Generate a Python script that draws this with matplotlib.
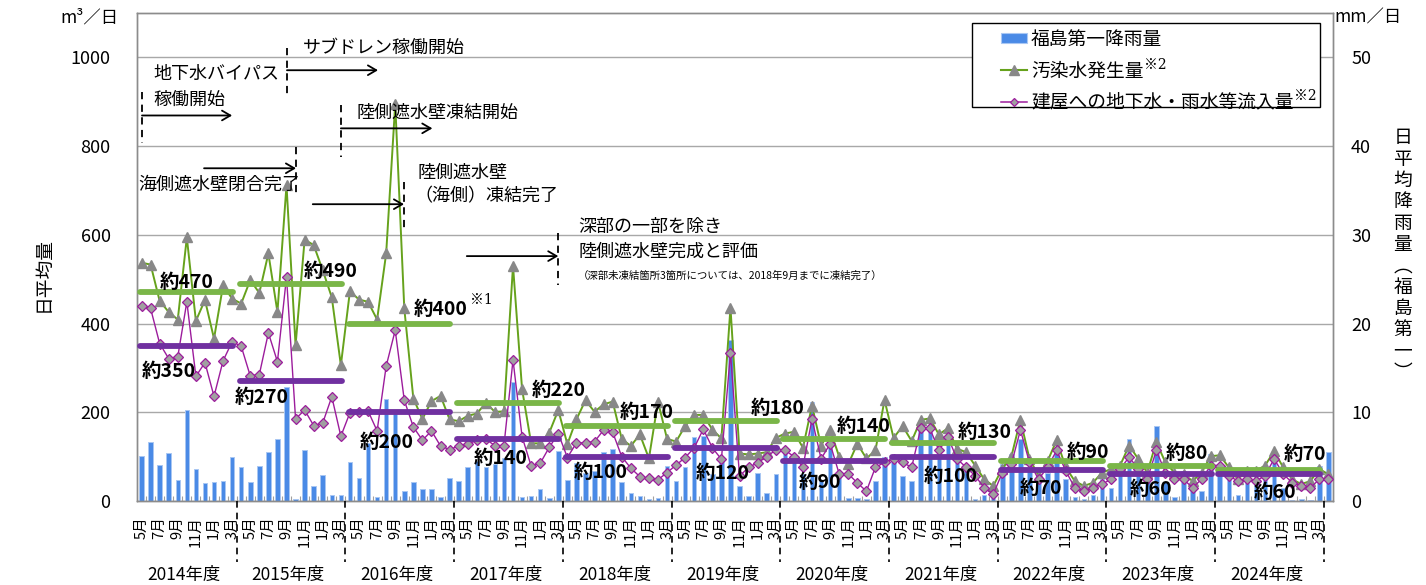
import numpy as np
import matplotlib
matplotlib.use("Agg")
import matplotlib.pyplot as plt
from matplotlib.lines import Line2D
from matplotlib.patches import Patch, Rectangle
import matplotlib.transforms as mtrans

plt.rcParams['font.family'] = ['Noto Sans CJK JP', 'DejaVu Sans']

# ---------------- data ----------------
fiscal_years = ["2014年度", "2015年度", "2016年度", "2017年度", "2018年度", "2019年度",
                "2020年度", "2021年度", "2022年度", "2023年度", "2024年度"]
months_in_year = [11, 12, 12, 12, 12, 12, 12, 12, 12, 12, 12]
month_labels = ["5月", "7月", "9月", "11月", "1月", "3月"]

series_names = ["福島第一降雨量", "汚染水発生量", "建屋への地下水・雨水等流入量"]

# monthly mean rainfall (mm/day), May 2014 - Apr 2025
rain = [5.1, 6.7, 4.1, 5.4, 2.4, 10.3, 3.6, 2.0, 2.1, 2.3, 5.0,
        3.8, 2.1, 3.9, 5.5, 7.0, 12.9, 0.2, 5.8, 1.7, 2.9, 0.7, 0.7,
        4.4, 2.6, 6.5, 0.4, 11.5, 10.3, 1.1, 2.1, 1.4, 1.4, 0.4, 2.6,
        2.3, 3.8, 4.5, 3.8, 4.2, 4.8, 13.4, 0.5, 0.6, 1.3, 0.3, 5.6,
        2.4, 4.3, 3.1, 3.4, 5.5, 5.9, 2.1, 0.9, 0.6, 0.2, 0.3, 3.9,
        2.2, 3.8, 7.2, 7.3, 3.0, 4.7, 18.2, 1.7, 0.6, 3.1, 0.9, 3.0,
        5.4, 4.6, 3.0, 11.2, 2.4, 6.7, 2.8, 0.3, 0.3, 0.2, 2.3, 5.0,
        4.5, 2.8, 2.3, 9.0, 8.6, 4.9, 7.0, 4.7, 4.2, 0.2, 0.7, 1.3,
        4.2, 5.3, 7.0, 3.6, 2.5, 3.2, 5.5, 2.5, 0.4, 0.2, 0.7, 2.5,
        1.5, 3.0, 7.0, 2.8, 3.2, 8.4, 2.1, 0.5, 3.4, 1.3, 1.1, 5.3,
        3.6, 2.5, 0.7, 2.5, 2.8, 3.6, 4.7, 1.5, 0.1, 0.2, 0.1, 4.0,
        5.5]

# contaminated water generated (m3/day)
contaminated = [537, 533, 451, 426, 409, 594, 406, 453, 366, 486, 456,
                445, 498, 469, 558, 426, 712, 351, 589, 577, 520, 459, 306,
                473, 454, 449, 409, 558, 895, 434, 231, 185, 225, 237, 184,
                180, 192, 197, 221, 201, 202, 530, 252, 130, 130, 154, 205,
                128, 184, 227, 201, 218, 224, 140, 124, 150, 96, 224, 140,
                134, 169, 194, 194, 161, 141, 436, 107, 105, 107, 110, 142,
                152, 156, 120, 215, 125, 160, 100, 83, 129, 96, 114, 228,
                142, 169, 135, 183, 186, 150, 164, 118, 110, 80, 49, 34,
                73, 100, 183, 95, 57, 90, 137, 76, 45, 34, 41, 64,
                72, 80, 125, 95, 64, 133, 87, 64, 61, 45, 64, 101,
                103, 76, 49, 68, 68, 80, 112, 76, 49, 38, 45, 72,
                60]

# groundwater / rainwater inflow into buildings (m3/day)
inflow = [439, 434, 355, 321, 325, 449, 281, 312, 236, 316, 359,
          349, 282, 285, 379, 314, 505, 185, 205, 170, 176, 235, 146,
          199, 200, 203, 158, 304, 385, 227, 167, 137, 158, 124, 116,
          124, 128, 137, 139, 125, 125, 318, 145, 79, 85, 121, 152,
          98, 131, 131, 134, 160, 155, 100, 74, 55, 51, 48, 64,
          81, 98, 120, 162, 120, 94, 334, 56, 76, 86, 100, 115,
          115, 100, 77, 185, 95, 129, 61, 61, 41, 22, 76, 87,
          95, 87, 76, 164, 164, 114, 144, 95, 76, 57, 30, 15,
          64, 83, 160, 87, 49, 76, 114, 68, 30, 22, 30, 38,
          49, 72, 99, 72, 49, 114, 64, 49, 49, 30, 49, 80,
          80, 57, 45, 49, 45, 57, 95, 61, 41, 34, 30, 49,
          49]

contaminated_avg = [470, 490, 400, 220, 170, 180, 140, 130, 90, 80, 70]
inflow_avg = [350, 270, 200, 140, 100, 120, 90, 100, 70, 60, 60]

# label positions (category index, value) for the average labels
contaminated_avg_pos = [(5.0, 493), (20.9, 518), (33.0, 432), (46.0, 250), (55.8, 200), (70.2, 209),
                        (79.7, 169), (93.1, 155), (104.5, 110), (115.4, 106), (128.4, 104)]
inflow_avg_pos = [(3.0, 291), (13.3, 234), (27.1, 131), (39.6, 95), (50.7, 65), (64.1, 61),
                  (74.9, 41), (89.3, 56), (99.3, 29), (111.4, 25), (125.1, 20)]

# ---------------- colours ----------------
bar_color = '#4a8ae6'
bar_edge = '#a9c7f3'
green_line = '#66a21c'
tri_gray = '#888888'
purple_line = '#9c1c9c'
dia_fill = '#a0a0a0'
green_avg_c = '#7ab648'
purple_avg_c = '#7030a0'
frame_c = '#8c8c8c'

# ---------------- figure ----------------
W, H = 1426, 585
L, R, B, T = 137, 1333, 501, 13
fig = plt.figure(figsize=(W / 100, H / 100), dpi=100, facecolor='white')
ax = fig.add_axes([L / W, 1 - B / H, (R - L) / W, (B - T) / H])
ax2 = ax.twinx()
ax.set_zorder(2)
ax2.set_zorder(1)
ax.patch.set_visible(False)

n = len(rain)
x = np.arange(n)

# rainfall bars (right axis)
ax2.bar(x, rain, width=0.5, color=bar_color, edgecolor=bar_edge, linewidth=0.7, zorder=2)
ax2.set_ylim(0, 55)
ax2.set_yticks(range(0, 51, 10))
ax2.yaxis.grid(True, color='#a8a8a8', lw=1.0)
ax2.set_axisbelow(True)
ax2.tick_params(axis='y', length=0, labelsize=13, pad=13)

# lines (left axis)
ax.plot(x, contaminated, color=green_line, lw=1.4, marker='^', ms=7.5,
        mfc=tri_gray, mec=tri_gray, zorder=3)
ax.plot(x, inflow, color=purple_line, lw=1.0, marker='D', ms=5.2,
        mfc=dia_fill, mec=purple_line, mew=0.9, zorder=3.5)
ax.set_ylim(0, 1100)
ax.set_yticks(range(0, 1001, 200))
ax.set_xlim(-0.5, n - 0.5)
ax.tick_params(axis='y', length=0, labelsize=13, pad=19)

for a in (ax, ax2):
    for s in a.spines.values():
        s.set_color(frame_c)
        s.set_linewidth(1.0)

# x ticks
tick_pos = np.arange(0, n - 1, 2)
ax.set_xticks(tick_pos)
ax.set_xticklabels((month_labels * len(fiscal_years))[:len(tick_pos)], rotation=90, fontsize=10.5)
ax.tick_params(axis='x', which='major', length=0, pad=11)
ax.set_xticks(np.arange(0.5, n - 1, 1), minor=True)
ax.tick_params(axis='x', which='minor', direction='in', length=3.5, color='#a0a0a0', width=0.8)

year_start = np.concatenate([[0], np.cumsum(months_in_year)[:-1]])
year_end = year_start + np.array(months_in_year) - 1
trans = mtrans.blended_transform_factory(ax.transData, ax.transAxes)
for k, fy in enumerate(fiscal_years):
    xc = (year_start[k] + year_end[k]) / 2 - 0.3
    ax.text(xc, -0.151, fy, transform=trans, ha='center', va='center', fontsize=12.5)
    xb = year_end[k] + 0.5
    ax.plot([xb, xb], [0, -0.125], transform=trans, color='k', lw=1.2,
            ls=(0, (4, 3)), clip_on=False, zorder=5)

# yearly average bars and labels
for k in range(len(fiscal_years)):
    x0 = year_start[k] - 0.5 + 0.35
    x1 = year_end[k] + 0.5 - 0.4
    ax.plot([x0, x1], [contaminated_avg[k]] * 2, color=green_avg_c, lw=4.2,
            solid_capstyle='round', zorder=5)
    ax.plot([x0, x1], [inflow_avg[k]] * 2, color=purple_avg_c, lw=4.2,
            solid_capstyle='round', zorder=5)
    px, py = contaminated_avg_pos[k]
    ax.text(px, py, f"約{contaminated_avg[k]}", ha='center', va='center',
            fontsize=14, fontweight='bold', zorder=7)
    px, py = inflow_avg_pos[k]
    ax.text(px, py, f"約{inflow_avg[k]}", ha='center', va='center',
            fontsize=14, fontweight='bold', zorder=7)
ax.text(37.5, 452, "※1", ha='center', va='center', fontsize=10,
        family=['DejaVu Serif', 'Noto Sans CJK JP'], zorder=7)

# event annotations
def vdash(xv, y0, y1):
    ax.plot([xv, xv], [y0, y1], color='k', lw=1.3, ls=(0, (4, 3)), zorder=6, clip_on=False)

def harrow(x0, x1, yv):
    ax.annotate('', xy=(x1, yv), xytext=(x0, yv),
                arrowprops=dict(arrowstyle='->,head_length=0.6,head_width=0.35',
                                color='k', lw=1.3, shrinkA=0, shrinkB=0), zorder=6)

ev_fs = 13
# groundwater bypass
vdash(0.05, 921, 806); harrow(0.05, 10.0, 869)
ax.text(1.3, 962, "地下水バイパス", fontsize=ev_fs, va='center', ha='left', zorder=6)
ax.text(1.3, 905, "稼働開始", fontsize=ev_fs, va='center', ha='left', zorder=6)
# sub-drain
vdash(16.05, 1020, 908); harrow(16.05, 26.1, 971)
ax.text(17.8, 1022, "サブドレン稼働開始", fontsize=ev_fs, va='center', ha='left', zorder=6)
# land-side wall freezing start
vdash(22.0, 892, 775); harrow(22.0, 32.1, 840)
ax.text(23.7, 874, "陸側遮水壁凍結開始", fontsize=ev_fs, va='center', ha='left', zorder=6)
# sea-side wall closure
vdash(17.05, 797, 685); harrow(6.9, 17.05, 750)
ax.text(-0.4, 714, "海側遮水壁閉合完了", fontsize=ev_fs, va='center', ha='left', zorder=6)
# land-side wall (sea side) freezing complete
vdash(28.97, 718, 606); harrow(18.9, 28.97, 669)
ax.text(30.5, 739, "陸側遮水壁", fontsize=ev_fs, va='center', ha='left', zorder=6)
ax.text(30.1, 687, "（海側）凍結完了", fontsize=ev_fs, va='center', ha='left', zorder=6)
# land-side wall completed
vdash(46.0, 604, 486); harrow(35.9, 46.0, 552)
ax.text(48.2, 617, "深部の一部を除き", fontsize=ev_fs, va='center', ha='left', zorder=6)
ax.text(48.2, 561, "陸側遮水壁完成と評価", fontsize=ev_fs, va='center', ha='left', zorder=6)
ax.text(48.2, 509, "（深部未凍結箇所3箇所については、2018年9月までに凍結完了）",
        fontsize=7.5, va='center', ha='left', zorder=6)

# legend
handles = [Patch(facecolor=bar_color, edgecolor=bar_edge, lw=0.8),
           Line2D([], [], color=green_line, lw=1.5, marker='^', ms=7, mfc=tri_gray, mec=tri_gray),
           Line2D([], [], color=purple_line, lw=1.1, marker='D', ms=4.5, mfc=dia_fill,
                  mec=purple_line, mew=0.9)]
box = Rectangle(((972 - L) / (R - L), (B - 107) / (B - T)), (1320 - 972) / (R - L), 84 / (B - T),
                transform=ax.transAxes, facecolor='white', edgecolor='black', lw=1.0, zorder=8)
ax.add_patch(box)
leg = ax.legend(handles, series_names, loc='upper left',
                bbox_to_anchor=((1001 - L) / (R - L), (B - 29) / (B - T)),
                frameon=False, fontsize=13.5, handlelength=1.4, handleheight=0.45,
                handletextpad=0.2, labelspacing=0.55, borderpad=0, borderaxespad=0)
leg.set_zorder(9)
for t in leg.get_texts()[1:]:
    ax.annotate("※2", xy=(1, 1), xycoords=t, xytext=(0.5, 2.0), textcoords='offset points',
                ha='left', va='top', fontsize=10, family=['DejaVu Serif', 'Noto Sans CJK JP'],
                zorder=10)

# axis titles / units
fig.text(89 / W, 1 - 17 / H, "m³／日", ha='center', va='center', fontsize=12.5)
fig.text(1368 / W, 1 - 17 / H, "mm／日", ha='center', va='center', fontsize=12.5)
fig.text(43 / W, 1 - 275 / H, "日平均量", rotation=90, ha='center', va='center', fontsize=13.5)
vert_label = "\n".join(list("日平均降雨量") + ["︵", "福", "島", "第", "一", "︶"])
fig.text(1403 / W, 1 - 255 / H, vert_label, ha='center', va='center', fontsize=13.5,
         linespacing=1.02)

fig.savefig("out.png", dpi=100, facecolor='white')
